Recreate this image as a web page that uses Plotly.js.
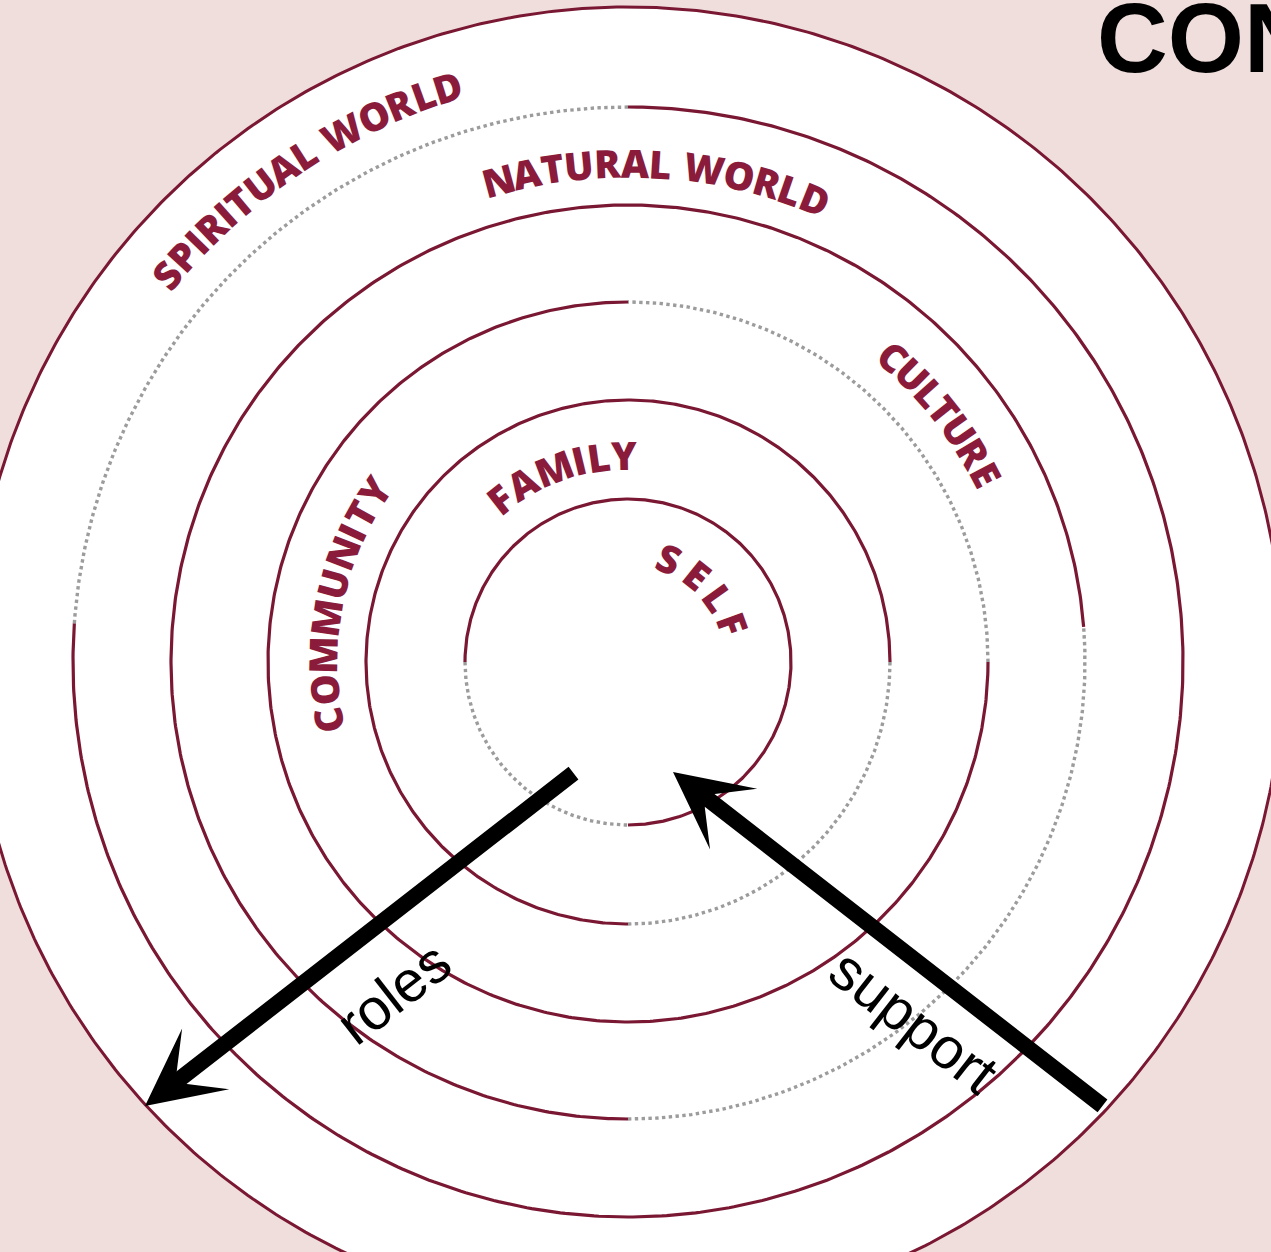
<!DOCTYPE html>
<html><head><meta charset="utf-8">
<script src="https://cdn.plot.ly/plotly-3.0.1.min.js"></script>
<style>html,body{margin:0;padding:0;background:#efdedb;overflow:hidden}</style>
</head><body><div id="chart" style="width:1271px;height:1252px"></div>
<script>
// ---- data ----
const center = [628, 662];
const ringNames = ['SELF', 'FAMILY', 'COMMUNITY', 'CULTURE', 'NATURAL WORLD', 'SPIRITUAL WORLD'];
const ringRadii = [163, 262, 360, 457, 555, 655];
const dottedFrom = [180, 270, 0, 270, 90, null];   // degrees, counter-clockwise from 3 o'clock
const dottedTo = [270, 360, 90, 364.4, 176, null];
const labelRadii = [112, 208, 306, 405, 500, 603];
const labelStart = [68, 128, 191, 49, 105, 140];   // angle of first letter
const labelEnd = [20, 91, 146, 27.6, 68, 107.4];   // angle of last letter
const arrowNames = ['roles', 'support'];
const arrowTail = [[575, 772], [1104, 1107]];
const arrowTip = [[145, 1106], [673, 772]];
const arrowLabelPos = [[393, 992], [914, 1020]];
const cornerTitle = 'CON';

// ---- styles ----
const RED = '#7a1833', GREY = '#9c9c9c', TXT = '#8a1b3b';
const charW = {A:.77,C:.73,D:.83,E:.66,F:.62,I:.36,L:.62,M:.98,N:.84,O:.86,P:.72,R:.76,S:.68,T:.68,U:.82,W:1.1,Y:.72,' ':.38};

function arc(r, a0, a1) {
  const xs = [], ys = [];
  const n = Math.max(2, Math.ceil(Math.abs(a1 - a0) / 0.5));
  for (let i = 0; i <= n; i++) {
    const a = (a0 + (a1 - a0) * i / n) * Math.PI / 180;
    xs.push(center[0] + r * Math.cos(a));
    ys.push(center[1] - r * Math.sin(a));
  }
  return {xs, ys};
}

const traces = [];
const outer = arc(ringRadii[5], 0, 360);
traces.push({x: outer.xs, y: outer.ys, mode: 'lines', fill: 'toself', fillcolor: '#ffffff',
  line: {color: RED, width: 3}, hoverinfo: 'skip'});

for (let i = 0; i < 5; i++) {
  const solid = arc(ringRadii[i], dottedTo[i], dottedFrom[i] + 360);
  traces.push({x: solid.xs, y: solid.ys, mode: 'lines', line: {color: RED, width: 3.2}, hoverinfo: 'skip'});
  const dot = arc(ringRadii[i], dottedFrom[i], dottedTo[i]);
  traces.push({x: dot.xs, y: dot.ys, mode: 'lines', line: {color: GREY, width: 3.4, dash: 'dot'}, hoverinfo: 'skip'});
}

const annotations = [];
ringNames.forEach((name, i) => {
  const chars = name.split('');
  const w = chars.map(c => charW[c] || .75);
  const cum = [];
  let s = 0;
  w.forEach((v, k) => { cum.push(s + v / 2); s += v; });
  const t0 = cum[0], t1 = cum[cum.length - 1];
  chars.forEach((c, k) => {
    if (c === ' ') return;
    const a = labelStart[i] + (labelEnd[i] - labelStart[i]) * (cum[k] - t0) / (t1 - t0);
    const ar = a * Math.PI / 180;
    annotations.push({
      x: center[0] + labelRadii[i] * Math.cos(ar),
      y: center[1] - labelRadii[i] * Math.sin(ar),
      xref: 'x', yref: 'y', text: c, showarrow: false, textangle: 90 - a,
      xanchor: 'center', yanchor: 'middle',
      font: {family: 'Open Sans', size: 39, color: TXT, weight: 800}
    });
  });
});

arrowNames.forEach((name, i) => {
  annotations.push({
    x: arrowTip[i][0], y: arrowTip[i][1], ax: arrowTail[i][0], ay: arrowTail[i][1],
    xref: 'x', yref: 'y', axref: 'x', ayref: 'y', text: '', showarrow: true,
    arrowhead: 3, arrowsize: 0.8, arrowwidth: 16, arrowcolor: '#000', standoff: 0, startstandoff: 0
  });
  const dx = arrowTip[i][0] - arrowTail[i][0], dy = arrowTip[i][1] - arrowTail[i][1];
  let ang = Math.atan2(dy, dx) * 180 / Math.PI;
  if (ang > 90) ang -= 180;
  if (ang < -90) ang += 180;
  annotations.push({
    x: arrowLabelPos[i][0], y: arrowLabelPos[i][1], xref: 'x', yref: 'y', text: name,
    showarrow: false, textangle: ang, xanchor: 'center', yanchor: 'middle',
    font: {family: 'Liberation Sans, Arial', size: 58, color: '#000'}
  });
});

annotations.push({
  x: 1095, y: 38, xref: 'x', yref: 'y', text: cornerTitle, showarrow: false,
  xanchor: 'left', yanchor: 'middle',
  font: {family: 'Liberation Sans, Arial', size: 98, color: '#000', weight: 'bold'}
});

const layout = {
  width: 1271, height: 1252,
  margin: {l: 0, r: 0, t: 0, b: 0, pad: 0},
  paper_bgcolor: '#efdedb', plot_bgcolor: 'rgba(0,0,0,0)',
  showlegend: false,
  xaxis: {range: [0, 1271], visible: false, fixedrange: true},
  yaxis: {range: [1252, 0], visible: false, fixedrange: true},
  annotations: annotations
};
Plotly.newPlot('chart', traces, layout, {displayModeBar: false, staticPlot: true});
</script></body></html>
